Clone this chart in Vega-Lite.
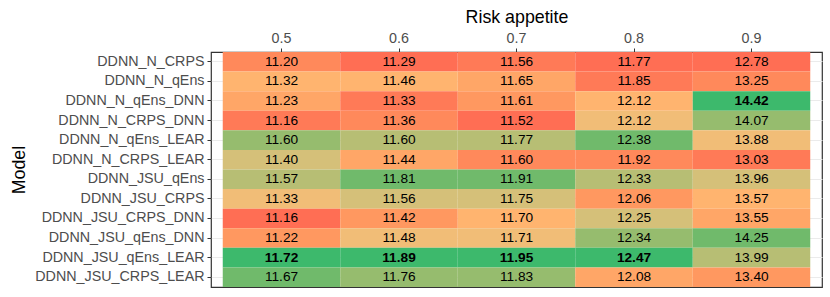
{
  "$schema": "https://vega.github.io/schema/vega-lite/v6.json",
  "autosize": {"type": "none"},
  "width": 611,
  "height": 235,
  "padding": {"left": 211, "top": 52, "right": 8, "bottom": 10},
  "background": "white",
  "config": {
    "font": "Liberation Sans",
    "view": {"stroke": "#333333", "strokeWidth": 1.2},
    "axis": {"labelFont": "Liberation Sans", "titleFont": "Liberation Sans"}
  },
  "data": {
    "values": [
      {"model": "DDNN_N_CRPS", "risk": "0.5", "value": 11.20},
      {"model": "DDNN_N_CRPS", "risk": "0.6", "value": 11.29},
      {"model": "DDNN_N_CRPS", "risk": "0.7", "value": 11.56},
      {"model": "DDNN_N_CRPS", "risk": "0.8", "value": 11.77},
      {"model": "DDNN_N_CRPS", "risk": "0.9", "value": 12.78},
      {"model": "DDNN_N_qEns", "risk": "0.5", "value": 11.32},
      {"model": "DDNN_N_qEns", "risk": "0.6", "value": 11.46},
      {"model": "DDNN_N_qEns", "risk": "0.7", "value": 11.65},
      {"model": "DDNN_N_qEns", "risk": "0.8", "value": 11.85},
      {"model": "DDNN_N_qEns", "risk": "0.9", "value": 13.25},
      {"model": "DDNN_N_qEns_DNN", "risk": "0.5", "value": 11.23},
      {"model": "DDNN_N_qEns_DNN", "risk": "0.6", "value": 11.33},
      {"model": "DDNN_N_qEns_DNN", "risk": "0.7", "value": 11.61},
      {"model": "DDNN_N_qEns_DNN", "risk": "0.8", "value": 12.118},
      {"model": "DDNN_N_qEns_DNN", "risk": "0.9", "value": 14.42},
      {"model": "DDNN_N_CRPS_DNN", "risk": "0.5", "value": 11.162},
      {"model": "DDNN_N_CRPS_DNN", "risk": "0.6", "value": 11.36},
      {"model": "DDNN_N_CRPS_DNN", "risk": "0.7", "value": 11.52},
      {"model": "DDNN_N_CRPS_DNN", "risk": "0.8", "value": 12.122},
      {"model": "DDNN_N_CRPS_DNN", "risk": "0.9", "value": 14.07},
      {"model": "DDNN_N_qEns_LEAR", "risk": "0.5", "value": 11.60},
      {"model": "DDNN_N_qEns_LEAR", "risk": "0.6", "value": 11.60},
      {"model": "DDNN_N_qEns_LEAR", "risk": "0.7", "value": 11.77},
      {"model": "DDNN_N_qEns_LEAR", "risk": "0.8", "value": 12.38},
      {"model": "DDNN_N_qEns_LEAR", "risk": "0.9", "value": 13.88},
      {"model": "DDNN_N_CRPS_LEAR", "risk": "0.5", "value": 11.40},
      {"model": "DDNN_N_CRPS_LEAR", "risk": "0.6", "value": 11.44},
      {"model": "DDNN_N_CRPS_LEAR", "risk": "0.7", "value": 11.60},
      {"model": "DDNN_N_CRPS_LEAR", "risk": "0.8", "value": 11.92},
      {"model": "DDNN_N_CRPS_LEAR", "risk": "0.9", "value": 13.03},
      {"model": "DDNN_JSU_qEns", "risk": "0.5", "value": 11.57},
      {"model": "DDNN_JSU_qEns", "risk": "0.6", "value": 11.81},
      {"model": "DDNN_JSU_qEns", "risk": "0.7", "value": 11.91},
      {"model": "DDNN_JSU_qEns", "risk": "0.8", "value": 12.33},
      {"model": "DDNN_JSU_qEns", "risk": "0.9", "value": 13.96},
      {"model": "DDNN_JSU_CRPS", "risk": "0.5", "value": 11.33},
      {"model": "DDNN_JSU_CRPS", "risk": "0.6", "value": 11.56},
      {"model": "DDNN_JSU_CRPS", "risk": "0.7", "value": 11.75},
      {"model": "DDNN_JSU_CRPS", "risk": "0.8", "value": 12.06},
      {"model": "DDNN_JSU_CRPS", "risk": "0.9", "value": 13.57},
      {"model": "DDNN_JSU_CRPS_DNN", "risk": "0.5", "value": 11.158},
      {"model": "DDNN_JSU_CRPS_DNN", "risk": "0.6", "value": 11.42},
      {"model": "DDNN_JSU_CRPS_DNN", "risk": "0.7", "value": 11.70},
      {"model": "DDNN_JSU_CRPS_DNN", "risk": "0.8", "value": 12.25},
      {"model": "DDNN_JSU_CRPS_DNN", "risk": "0.9", "value": 13.55},
      {"model": "DDNN_JSU_qEns_DNN", "risk": "0.5", "value": 11.22},
      {"model": "DDNN_JSU_qEns_DNN", "risk": "0.6", "value": 11.48},
      {"model": "DDNN_JSU_qEns_DNN", "risk": "0.7", "value": 11.71},
      {"model": "DDNN_JSU_qEns_DNN", "risk": "0.8", "value": 12.34},
      {"model": "DDNN_JSU_qEns_DNN", "risk": "0.9", "value": 14.25},
      {"model": "DDNN_JSU_qEns_LEAR", "risk": "0.5", "value": 11.72},
      {"model": "DDNN_JSU_qEns_LEAR", "risk": "0.6", "value": 11.89},
      {"model": "DDNN_JSU_qEns_LEAR", "risk": "0.7", "value": 11.95},
      {"model": "DDNN_JSU_qEns_LEAR", "risk": "0.8", "value": 12.47},
      {"model": "DDNN_JSU_qEns_LEAR", "risk": "0.9", "value": 13.99},
      {"model": "DDNN_JSU_CRPS_LEAR", "risk": "0.5", "value": 11.67},
      {"model": "DDNN_JSU_CRPS_LEAR", "risk": "0.6", "value": 11.76},
      {"model": "DDNN_JSU_CRPS_LEAR", "risk": "0.7", "value": 11.83},
      {"model": "DDNN_JSU_CRPS_LEAR", "risk": "0.8", "value": 12.08},
      {"model": "DDNN_JSU_CRPS_LEAR", "risk": "0.9", "value": 13.40}
    ]
  },
  "transform": [
    {"window": [{"op": "row_number", "as": "rank"}], "groupby": ["risk"], "sort": [{"field": "value", "order": "ascending"}]},
    {"joinaggregate": [{"op": "max", "field": "value", "as": "maxv"}], "groupby": ["risk"]}
  ],
  "encoding": {
    "x": {
      "field": "risk", "type": "ordinal", "sort": ["0.5", "0.6", "0.7", "0.8", "0.9"],
      "scale": {"paddingInner": 0, "paddingOuter": 0.1},
      "axis": {"orient": "top", "title": "Risk appetite", "labelAngle": 0, "domain": false, "grid": false, "zindex": 0,
        "labelFontSize": 14.3, "labelColor": "#4D4D4D", "tickColor": "#333333", "tickSize": 4, "labelPadding": 3,
        "titleFontSize": 17.8, "titleFontWeight": "normal", "titleColor": "#000000", "titlePadding": 5}
    },
    "y": {
      "field": "model", "type": "nominal",
      "sort": ["DDNN_N_CRPS", "DDNN_N_qEns", "DDNN_N_qEns_DNN", "DDNN_N_CRPS_DNN", "DDNN_N_qEns_LEAR", "DDNN_N_CRPS_LEAR", "DDNN_JSU_qEns", "DDNN_JSU_CRPS", "DDNN_JSU_CRPS_DNN", "DDNN_JSU_qEns_DNN", "DDNN_JSU_qEns_LEAR", "DDNN_JSU_CRPS_LEAR"],
      "scale": {"paddingInner": 0, "paddingOuter": 0},
      "axis": {"title": "Model", "domain": false, "grid": true, "gridColor": "#EBEBEB", "bandPosition": 0.5, "zindex": 0,
        "labelFontSize": 14.3, "labelColor": "#4D4D4D", "tickColor": "#333333", "tickSize": 4, "labelPadding": 3,
        "titleFontSize": 17.8, "titleFontWeight": "normal", "titleColor": "#000000", "titlePadding": 6}
    }
  },
  "layer": [
    {
      "mark": {"type": "rect"},
      "encoding": {
        "color": {
          "field": "rank", "type": "ordinal", "legend": null,
          "scale": {"domain": [1,2,3,4,5,6,7,8,9,10,11,12],
            "range": ["#FF6E54", "#FF7A57", "#FF895B", "#FF9860", "#FFA667", "#FFB46F", "#F1BD77", "#D5C079", "#B7BE74", "#96BC6E", "#70BA6B", "#3DB96C"]}
        }
      }
    },
    {
      "transform": [{"filter": "datum.value < datum.maxv"}],
      "mark": {"type": "text", "fontSize": 13.7, "color": "#000000", "font": "Liberation Sans"},
      "encoding": {"text": {"field": "value", "type": "quantitative", "format": ".2f"}}
    },
    {
      "transform": [{"filter": "datum.value >= datum.maxv"}],
      "mark": {"type": "text", "fontSize": 13.7, "color": "#000000", "fontWeight": "bold", "font": "Liberation Sans"},
      "encoding": {"text": {"field": "value", "type": "quantitative", "format": ".2f"}}
    }
  ]
}
